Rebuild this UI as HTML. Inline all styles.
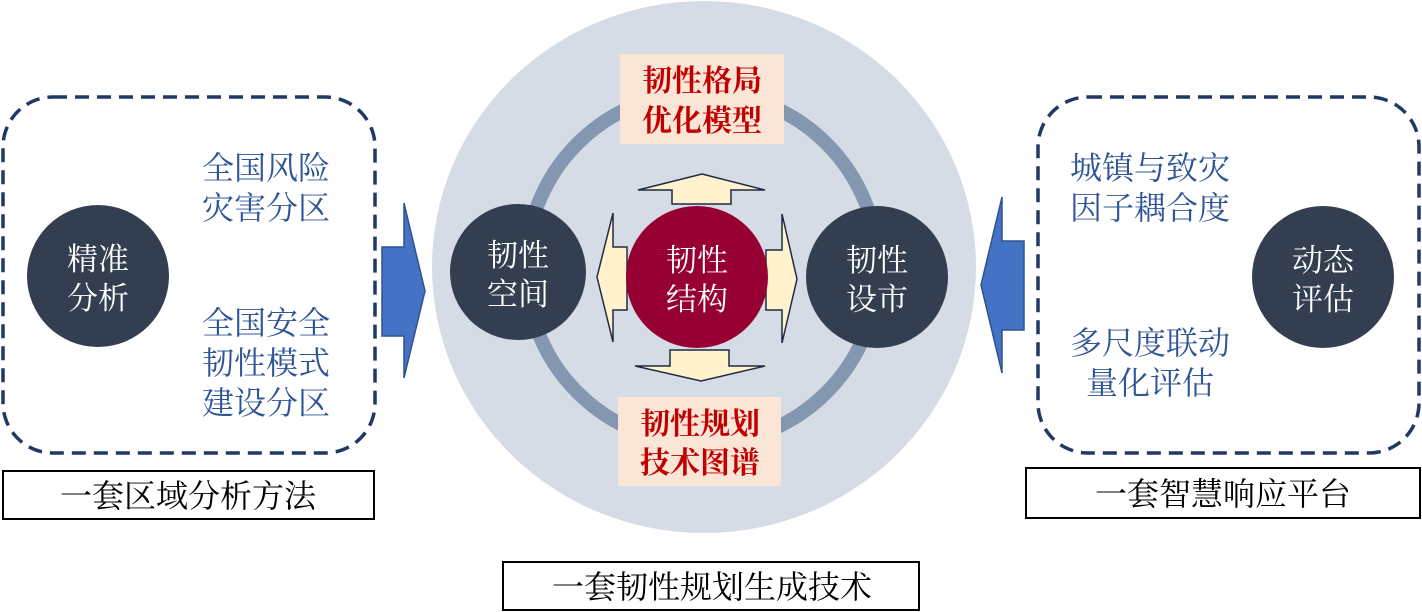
<!DOCTYPE html>
<html><head><meta charset="utf-8"><style>
html,body{margin:0;padding:0;background:#fff;}
svg{display:block;}
text{font-family:"Liberation Serif","Noto Serif CJK SC",serif;}
</style></head><body>
<svg width="1422" height="612" viewBox="0 0 1422 612" xmlns="http://www.w3.org/2000/svg">
<!-- Left panel -->
<rect x="3" y="97" width="372" height="356" rx="50" fill="none" stroke="#203864" stroke-width="3.5" stroke-dasharray="14 8"/>
<circle cx="98" cy="276" r="71" fill="#333f50"/>
<g fill="#fff" font-size="31" text-anchor="middle">
<text x="98" y="270">精准</text><text x="98" y="309">分析</text></g>
<g fill="#2f5597" font-size="32" text-anchor="middle">
<text x="266" y="179">全国风险</text><text x="266" y="219">灾害分区</text>
<text x="266" y="334">全国安全</text><text x="266" y="374">韧性模式</text><text x="266" y="414">建设分区</text></g>
<rect x="3" y="471" width="371" height="48" fill="#fff" stroke="#000" stroke-width="2"/>
<text x="188" y="507" font-size="32" text-anchor="middle" fill="#000">一套区域分析方法</text>

<!-- Blue arrows -->
<polygon points="382,247 404,247 404,203 425,291 404,378 404,336 382,336" fill="#4472c4" stroke="#2f528f" stroke-width="1.5"/>
<polygon points="1024,241 1002,241 1002,197 981,285 1002,373 1002,330 1024,330" fill="#4472c4" stroke="#2f528f" stroke-width="1.5"/>

<!-- Center -->
<ellipse cx="704" cy="267" rx="272" ry="266" fill="#d6dce5"/>
<circle cx="702" cy="268" r="176" fill="none" stroke="#8497b0" stroke-width="14"/>
<rect x="620" y="54" width="164" height="90" fill="#fbe5d6"/>
<g fill="#c00000" font-size="30" font-weight="bold" text-anchor="middle">
<text x="702" y="91">韧性格局</text><text x="702" y="131">优化模型</text></g>
<rect x="618" y="397" width="163" height="89" fill="#fbe5d6"/>
<g fill="#c00000" font-size="30" font-weight="bold" text-anchor="middle">
<text x="700" y="434">韧性规划</text><text x="700" y="473">技术图谱</text></g>

<g fill="#fff2cc" stroke="#1f2a44" stroke-width="1.5">
<polygon points="702,174 765,190 731,190 731,204 672,204 672,190 638,190"/>
<polygon points="670,350 729,350 729,366 765,366 701,381 635,366 670,366"/>
<polygon points="597,277 613,213 613,247 627,247 627,310 613,310 613,342"/>
<polygon points="766,250 782,250 782,214 797,279 782,343 782,310 766,310"/>
</g>

<circle cx="518" cy="272" r="68" fill="#333f50"/>
<g fill="#fff" font-size="31" text-anchor="middle"><text x="518" y="266">韧性</text><text x="518" y="305">空间</text></g>
<circle cx="877" cy="277" r="71" fill="#333f50"/>
<g fill="#fff" font-size="31" text-anchor="middle"><text x="877" y="271">韧性</text><text x="877" y="310">设市</text></g>
<circle cx="697" cy="277" r="71" fill="#970032"/>
<g fill="#fff" font-size="31" text-anchor="middle"><text x="697" y="271">韧性</text><text x="697" y="310">结构</text></g>

<rect x="503" y="562" width="416" height="48" fill="#fff" stroke="#000" stroke-width="2"/>
<text x="712" y="598" font-size="32" text-anchor="middle" fill="#000">一套韧性规划生成技术</text>

<!-- Right panel -->
<rect x="1038" y="97" width="381" height="356" rx="50" fill="none" stroke="#203864" stroke-width="3.5" stroke-dasharray="14 8"/>
<circle cx="1323" cy="277" r="71" fill="#333f50"/>
<g fill="#fff" font-size="31" text-anchor="middle"><text x="1323" y="271">动态</text><text x="1323" y="310">评估</text></g>
<g fill="#2f5597" font-size="32" text-anchor="middle">
<text x="1150" y="179">城镇与致灾</text><text x="1150" y="219">因子耦合度</text>
<text x="1150" y="354">多尺度联动</text><text x="1150" y="394">量化评估</text></g>
<rect x="1026" y="468" width="394" height="50" fill="#fff" stroke="#000" stroke-width="2"/>
<text x="1223" y="505" font-size="32" text-anchor="middle" fill="#000">一套智慧响应平台</text>
</svg>
</body></html>
